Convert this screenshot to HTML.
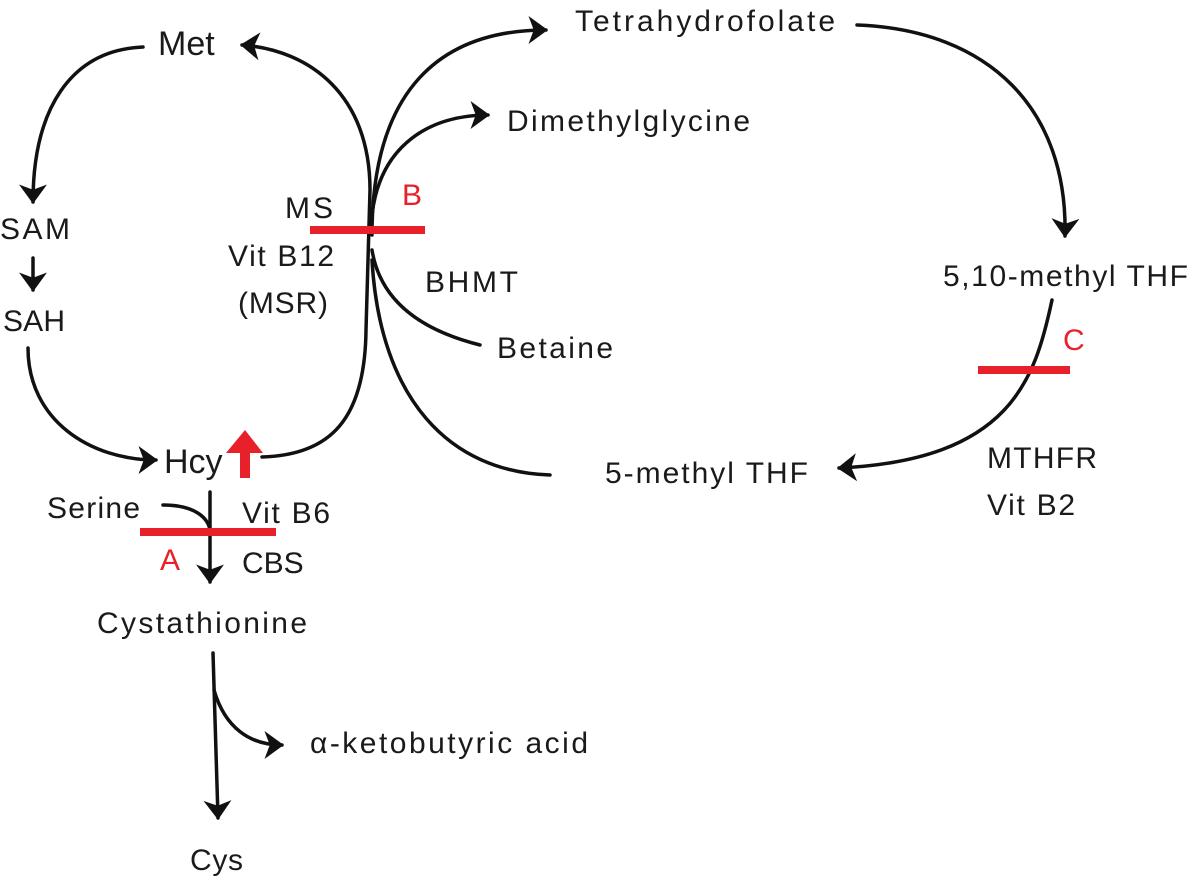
<!DOCTYPE html>
<html><head><meta charset="utf-8"><style>
html,body{margin:0;padding:0;background:#fff;width:1196px;height:880px;overflow:hidden}
text{font-family:"Liberation Sans",sans-serif;font-size:30px;fill:#1a1a1a}
.r{fill:#e8202a}
.b{font-size:34px}
</style></head><body>
<svg width="1196" height="880" viewBox="0 0 1196 880" xmlns="http://www.w3.org/2000/svg">
<defs>
<marker id="a" markerWidth="9" markerHeight="9" refX="5" refY="4.5" orient="auto" markerUnits="strokeWidth">
<path d="M0,0.5 L5.5,4.5 L0,8.5 L1.5,4.5 Z" fill="#111"/></marker>
</defs>
<g fill="none" stroke="#111" stroke-width="3.5" stroke-linecap="round">
<path d="M143,47 C70,50 33,110 33,202" marker-end="url(#a)"/>
<path d="M33,258 L33,290" marker-end="url(#a)"/>
<path d="M28,348 C28,420 90,460 156,460" marker-end="url(#a)"/>
<path d="M262,457 C330,455 365,420 366,330 L370,190 C370,95 310,50 242,45" marker-end="url(#a)"/>
<path d="M372,235 C372,90 440,30 546,30" marker-end="url(#a)"/>
<path d="M372,215 C380,145 430,115 488,115" marker-end="url(#a)"/>
<path d="M372,250 C380,300 420,330 480,345"/>
<path d="M372,260 C380,400 450,472 550,475"/>
<path d="M857,25 C990,30 1068,110 1065,236" marker-end="url(#a)"/>
<path d="M1052,300 C1035,380 1010,460 839,468" marker-end="url(#a)"/>
<path d="M210,492 L210,582" marker-end="url(#a)"/>
<path d="M163,505 C195,505 208,518 210,530"/>
<path d="M213,653 L218,818" marker-end="url(#a)"/>
<path d="M214,690 C225,728 250,745 282,745" marker-end="url(#a)"/>
</g>
<g stroke="#e8202a" stroke-width="8">
<line x1="310" y1="230" x2="425" y2="230"/>
<line x1="978" y1="370" x2="1070" y2="370"/>
<line x1="140" y1="532" x2="276" y2="532"/>
</g>
<path d="M240,478 L240,453 L226,453 L245,430 L263,453 L250,453 L250,478 Z" fill="#e8202a"/>
<text class="b" x="158" y="55">Met</text>
<text x="0" y="239" textLength="70">SAM</text>
<text x="3" y="331" textLength="62">SAH</text>
<text class="b" x="164" y="473">Hcy</text>
<text x="575" y="31" textLength="260">Tetrahydrofolate</text>
<text x="507" y="131" textLength="243">Dimethylglycine</text>
<text x="285" y="218" textLength="48">MS</text>
<text class="r" x="402" y="205">B</text>
<text x="228" y="266" textLength="106">Vit B12</text>
<text x="238" y="313" textLength="90">(MSR)</text>
<text x="425" y="292" textLength="93">BHMT</text>
<text x="497" y="358" textLength="116">Betaine</text>
<text x="943" y="286" textLength="245">5,10-methyl THF</text>
<text class="r" x="1063" y="350">C</text>
<text x="987" y="468" textLength="110">MTHFR</text>
<text x="987" y="515" textLength="88">Vit B2</text>
<text x="605" y="483" textLength="203">5-methyl THF</text>
<text x="47" y="518" textLength="93">Serine</text>
<text x="242" y="523" textLength="88">Vit B6</text>
<text class="r" x="160" y="570">A</text>
<text x="242" y="573">CBS</text>
<text x="97" y="633" textLength="210">Cystathionine</text>
<text x="310" y="753" textLength="278">α-ketobutyric acid</text>
<text x="190" y="870" textLength="53">Cys</text>
</svg>
</body></html>
